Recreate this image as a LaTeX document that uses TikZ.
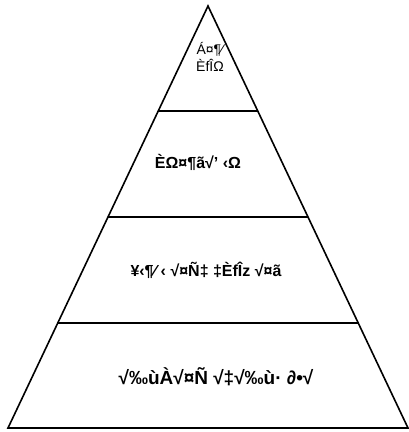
\documentclass[tikz,border=0pt]{standalone}
\usepackage{fontspec}
\setmainfont{Liberation Sans}
\begin{document}
\begin{tikzpicture}[x=1pt,y=-1pt,
  edge/.style={draw=black,line width=1.6pt,line join=miter},
  lvl/.style={draw=black,line width=1.4pt},
  lbl/.style={font=\fontsize{16}{17}\selectfont\bfseries,inner sep=0pt,align=center},
  bigl/.style={font=\fontsize{19}{20}\selectfont\bfseries,inner sep=0pt}]
\useasboundingbox (0,0) rectangle (409,432);
\coordinate (apex) at (208,6);
\coordinate (bl) at (8,428);
\coordinate (br) at (408,428);
\coordinate (a1) at (158,111); \coordinate (b1) at (258,111);
\coordinate (a2) at (108,217); \coordinate (b2) at (308,217);
\coordinate (a3) at (58,323);  \coordinate (b3) at (358,323);
\draw[edge] (apex) -- (bl) -- (br) -- cycle;
\draw[lvl] (a1) -- (b1);
\draw[lvl] (a2) -- (b2);
\draw[lvl] (a3) -- (b3);
\node[lbl,font=\fontsize{14}{17}\selectfont] (t1) at (210,57) {Á¤¶⁄\\ÈfÎΩ};
\node[lbl] (t2) at (198,162) {ÈΩ¤¶ã√' ‹Ω};
\node[lbl] (t3) at (206,270) {¥‹¶⁄ ‹ √¤Ñ‡ ‡ÈfÎz √¤ã};
\node[bigl] (t4) at (216,377) {√‰ùÀ√¤Ñ √‡√‰ù· ∂•√};
\end{tikzpicture}
\end{document}
